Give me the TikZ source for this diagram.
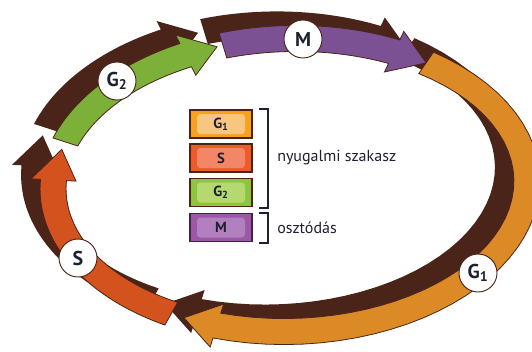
\documentclass[tikz,border=0pt]{standalone}
\usepackage{fontspec}
\setmainfont{PT Sans}
\usetikzlibrary{calc}

\definecolor{ringshadow}{HTML}{4A2418}
\definecolor{phaseM}{HTML}{7C5193}
\definecolor{phaseGone}{HTML}{DC8A26}
\definecolor{phaseS}{HTML}{D4521E}
\definecolor{phaseGtwo}{HTML}{7DB038}
\definecolor{keyGone}{HTML}{F8A21B}
\definecolor{keyGoneIn}{HTML}{F8C680}
\definecolor{keyS}{HTML}{F05A28}
\definecolor{keySIn}{HTML}{F48668}
\definecolor{keyGtwo}{HTML}{8CC63F}
\definecolor{keyGtwoIn}{HTML}{B6D870}
\definecolor{keyM}{HTML}{9C58A6}
\definecolor{keyMIn}{HTML}{B280BE}
\definecolor{keyMBorder}{HTML}{3E2350}
\definecolor{inkdark}{HTML}{1C2130}

% ring geometry (centre line radii, half band width, half head width)
\def\RingA{237}
\def\RingB{146.5}
\def\BandW{13}
\def\HeadW{22.5}

% one curved arrow of the ring: tail angle, head base angle, tip angle, style
\newcommand{\ringarrow}[4]{%
  \path[#4]
    plot[domain=#1:#2, samples=40] ({(\RingA+\BandW)*cos(\x)}, {(\RingB+\BandW)*sin(\x)})
    -- ({(\RingA+\HeadW)*cos(#2)}, {(\RingB+\HeadW)*sin(#2)})
    -- ({\RingA*cos(#3)}, {\RingB*sin(#3)})
    -- ({(\RingA-\HeadW)*cos(#2)}, {(\RingB-\HeadW)*sin(#2)})
    -- plot[domain=#2:#1, samples=40] ({(\RingA-\BandW)*cos(\x)}, {(\RingB-\BandW)*sin(\x)})
    -- cycle;%
}

\newcommand{\allarrows}[4]{%
  \ringarrow{-105.5}{-63}{-54}{#1}%
  \ringarrow{-54}{108.9}{117.5}{#2}%
  \ringarrow{121}{184.4}{196.5}{#3}%
  \ringarrow{199.5}{244.8}{253}{#4}%
}

\tikzset{
  shadowfill/.style={fill=ringshadow},
  bandfill/.style={fill=#1, draw=ringshadow, line width=0.6pt, line join=miter},
  phaselabel/.style={circle, fill=white, draw=ringshadow, line width=0.7pt,
    minimum size=28.5pt, inner sep=0pt, text=inkdark,
    font=\fontsize{15}{15}\selectfont\bfseries},
  keybox/.style={rectangle, minimum width=46.5pt, minimum height=21pt,
    inner sep=0pt, line width=0.9pt},
  keyinner/.style={rectangle, rounded corners=2.5pt, minimum width=36pt,
    minimum height=15pt, inner sep=0pt, text=inkdark,
    font=\fontsize{11}{11}\selectfont\bfseries},
  bracket/.style={draw=inkdark, line width=1.4pt},
  keytext/.style={anchor=west, inner sep=0pt, text=inkdark,
    font=\fontsize{12}{12}\selectfont},
}

\begin{document}
\begin{tikzpicture}[x=0.75pt, y=-0.75pt]
\useasboundingbox (0,0) rectangle (532,351);
\clip (0,0) rectangle (532,351);

% dark shadow of the ring, offset up and to the left
\begin{scope}[shift={(271,171)}, rotate=1.5]
  \allarrows{shadowfill}{shadowfill}{shadowfill}{shadowfill}
\end{scope}

% coloured phase arrows
\begin{scope}[shift={(290,185)}, rotate=1.5]
  \allarrows{bandfill=phaseM}{bandfill=phaseGone}{bandfill=phaseS}{bandfill=phaseGtwo}
\end{scope}

% phase labels on the ring
\node[phaselabel] (lblM)    at (303,39)  {M};
\node[phaselabel] (lblGone) at (478,273) {G\textsubscript{1}};
\node[phaselabel] (lblS)    at (78,258)  {S};
\node[phaselabel] (lblGtwo) at (117,81)  {G\textsubscript{2}};

% key
\node[keybox, fill=keyGone, draw=ringshadow] (boxGone) at (221,124) {};
\node[keyinner, fill=keyGoneIn] (inGone) at (boxGone) {G\textsubscript{1}};
\node[keybox, fill=keyS, draw=ringshadow] (boxS) at (221,158) {};
\node[keyinner, fill=keySIn] (inS) at (boxS) {S};
\node[keybox, fill=keyGtwo, draw=ringshadow] (boxGtwo) at (221,192.5) {};
\node[keyinner, fill=keyGtwoIn] (inGtwo) at (boxGtwo) {G\textsubscript{2}};
\node[keybox, fill=keyM, draw=keyMBorder] (boxM) at (221,227.5) {};
\node[keyinner, fill=keyMIn] (inM) at (boxM) {M};

% brackets
\coordinate (restTop) at (268,109);
\coordinate (restBot) at (268,208);
\coordinate (divTop)  at (268,213);
\coordinate (divBot)  at (268,243);
\draw[bracket] ($(restTop)+(-9,0)$) -- (restTop) -- (restBot) -- ($(restBot)+(-9,0)$);
\draw[bracket] ($(divTop)+(-9,0)$) -- (divTop) -- (divBot) -- ($(divBot)+(-9,0)$);

\node[keytext] (restText) at (277,158) {nyugalmi szakasz};
\node[keytext] (divText)  at (277,228) {osztódás};
\end{tikzpicture}
\end{document}
